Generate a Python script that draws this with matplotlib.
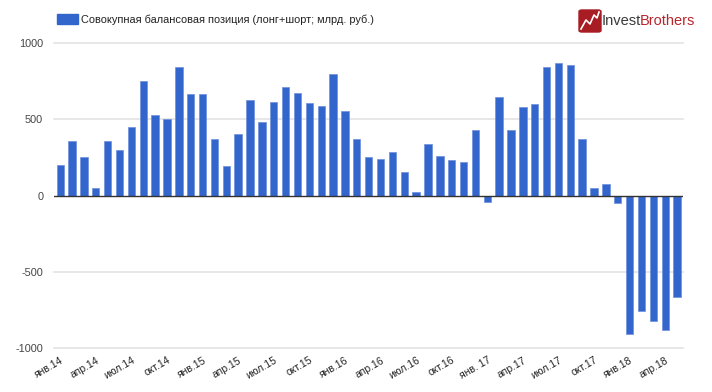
import numpy as np
import matplotlib
matplotlib.use("Agg")
import matplotlib.pyplot as plt
from matplotlib.patches import FancyBboxPatch, Rectangle

# data: monthly, Jan 2014 - May 2018 (bln rub)
values = [201, 358, 251, 50, 358, 295, 450, 751, 528, 498, 843, 662,
          662, 371, 192, 400, 622, 480, 614, 707, 670, 603, 587, 797,
          550, 367, 255, 242, 284, 155, 20, 334, 260, 234, 216, 426,
          -44, 642, 430, 581, 596, 838, 865, 852, 367, 50, 72, -52,
          -904, -758, -819, -878, -662]
tick_labels = ["янв.14", "апр.14", "июл.14", "окт.14", "янв.15", "апр.15",
               "июл.15", "окт.15", "янв.16", "апр.16", "июл.16", "окт.16",
               "янв. 17", "апр.17", "июл.17", "окт.17", "янв.18", "апр.18"]
yticks = [-1000, -500, 0, 500, 1000]
series_name = "Совокупная балансовая позиция (лонг+шорт; млрд. руб.)"

plt.rcParams['font.family'] = ['Liberation Sans', 'DejaVu Sans']

fig = plt.figure(figsize=(7.12, 3.92), dpi=100)
ax = fig.add_axes([54.3/712, 1 - 348.3/392, (683-54.3)/712, (348.3-42.7)/392])

x = np.arange(len(values))
ax.bar(x, values, width=0.62, color="#3366cc", edgecolor="#6f8fdd", linewidth=0.5, zorder=3)

ax.set_xlim(-0.5, len(values) - 0.5)
ax.set_ylim(-1000, 1000)
ax.set_yticks(yticks)
ax.set_yticklabels([str(v) for v in yticks], fontsize=7.8, color="#444444")
for v in yticks:
    if v != 0:
        ax.axhline(v, color="#e3e3e3", linewidth=1.2, zorder=1, clip_on=False)
ax.axhline(0, color="#333333", linewidth=1, zorder=4)

ax.set_xticks(x[::3])
ax.set_xticklabels(tick_labels, fontsize=7.5, color="#222222", rotation=30,
                   ha="right", rotation_mode="anchor")
ax.tick_params(axis="both", length=0)
ax.tick_params(axis="x", pad=5)
ax.tick_params(axis="y", pad=8)
for s in ax.spines.values():
    s.set_visible(False)

# legend
fig.patches.append(Rectangle((57/712, 1 - 24/392), 21/712, 10/392,
                             transform=fig.transFigure, color="#3366cc"))
fig.text(81/712, 1 - 19.5/392, series_name, fontsize=7.9, color="#222222", va="center")

# logo
fig.patches.append(FancyBboxPatch((579/712, 1 - 32/392), 22/712, 22/392,
                                  boxstyle="round,pad=0,rounding_size=0.004",
                                  transform=fig.transFigure, color="#a81d24"))
zx = np.array([581, 586, 590, 594, 597, 599]) / 712
zy = 1 - np.array([29, 20, 24, 15, 18, 12]) / 392
fig.add_artist(plt.Line2D(zx, zy, color="white", linewidth=1.2, transform=fig.transFigure))
fig.text(602/712, 1 - 21/392, "Invest", fontsize=10.5, color="#3a3a3a", va="center")
fig.text(639.5/712, 1 - 21/392, "Brothers", fontsize=10.5, color="#b8262c", va="center")

fig.savefig("out.png", dpi=100)
